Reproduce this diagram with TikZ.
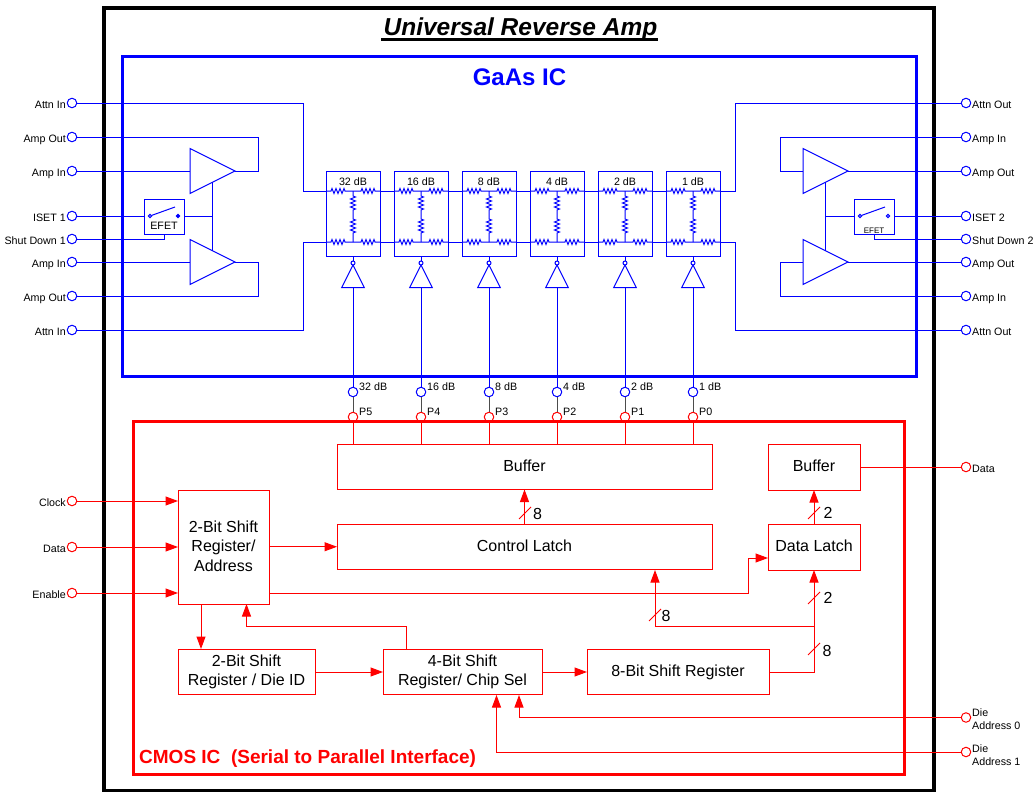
\documentclass[tikz,border=0pt]{standalone}
\usepackage{fontspec}
\setmainfont{Liberation Sans}
\usetikzlibrary{arrows.meta,shapes.geometric,decorations.pathmorphing,calc}
\definecolor{bblue}{RGB}{0,0,255}
\definecolor{rred}{RGB}{255,0,0}
\tikzset{
  wire/.style={draw=bblue,line width=1pt},
  rwire/.style={draw=rred,line width=1pt},
  rarrow/.style={rwire,-{Triangle[length=12.5pt,width=9pt]}},
  gwire/.style={draw=black!70,line width=1pt},
  bpin/.style={circle,draw=bblue,line width=1pt,minimum size=9.5pt,inner sep=0pt,outer sep=0pt},
  rpin/.style={circle,draw=rred,line width=1pt,minimum size=9.5pt,inner sep=0pt,outer sep=0pt},
  small/.style={font=\fontsize{10.7}{12.5}\selectfont,inner sep=0pt,text height=8pt,text depth=2pt},
  lablL/.style={small,anchor=east},
  lablR/.style={small,anchor=west},
  amp/.style={isosceles triangle,isosceles triangle stretches=true,draw=bblue,line width=1pt,
     minimum width=45pt,minimum height=45pt,inner sep=0pt,outer sep=0pt,anchor=apex},
  inv/.style={amp,minimum width=22.5pt,minimum height=22.5pt,shape border rotate=90},
  bubble/.style={circle,draw=bblue,line width=1pt,minimum size=4pt,inner sep=0pt,outer sep=0pt},
  contact/.style={circle,draw=bblue,line width=1pt,minimum size=3.2pt,inner sep=0pt,outer sep=0pt},
  efetbox/.style={rectangle,draw=bblue,line width=1pt,minimum width=40pt,minimum height=35pt,inner sep=0pt,outer sep=0pt},
  attbox/.style={rectangle,draw=bblue,line width=1pt,minimum width=54pt,minimum height=85pt,inner sep=0pt,outer sep=0pt},
  rbox/.style={rectangle,draw=rred,line width=1pt,inner sep=0pt,outer sep=0pt,align=center,
     font=\fontsize{16}{19.5}\selectfont},
  rboxone/.style={rbox,text depth=2pt},
  rtext/.style={inner sep=0pt,align=center,font=\fontsize{16}{19.5}\selectfont},
  num/.style={font=\fontsize{16}{18}\selectfont,inner sep=0pt},
  res/.style={decoration={zigzag,segment length=4pt,amplitude=2.5pt}},
}
\begin{document}
\begin{tikzpicture}[x=1pt,y=-1pt]
\useasboundingbox (0,0) rectangle (1034,792);
% frames
\draw[black,line width=3.5pt] (104,8) rectangle (934,790.5);
\draw[bblue,line width=3pt] (122,57) rectangle (916,376);
\draw[rred,line width=3pt] (133,421) rectangle (904.5,774.5);
\node[font=\fontsize{24.5}{26}\selectfont\bfseries\itshape,inner sep=0pt,anchor=base] (title) at (520.5,36) {Universal Reverse Amp};
\draw[black,line width=2.2pt] ([yshift=-3.5pt,xshift=-2pt]title.base west) -- ([yshift=-3.5pt]title.base east);
\node[font=\fontsize{24}{26}\selectfont\bfseries,text=bblue,inner sep=0pt,anchor=base] (gaas) at (519.5,85) {GaAs IC};
\node[font=\fontsize{19}{22}\selectfont\bfseries,text=rred,inner sep=0pt,anchor=west] (cmos) at (139,758.5) {CMOS IC\ \ (Serial to Parallel Interface)};

% pins left
\foreach \nm/\y/\t in {lA/103/Attn In,lB/137/Amp Out,lC/171/Amp In,lD/216/ISET 1,lE/239/Shut Down 1,lF/262/Amp In,lG/296/Amp Out,lH/330/Attn In}{
  \node[bpin] (\nm) at (72,\y) {};
  \node[lablL] (\nm t) at (66,\y+2) {\t};
}
% pins right
\foreach \nm/\y/\t in {rA/103/Attn Out,rB/137/Amp In,rC/171/Amp Out,rD/216/ISET 2,rE/239/Shut Down 2,rF/262/Amp Out,rG/296/Amp In,rH/330/Attn Out}{
  \node[bpin] (\nm) at (966,\y) {};
  \node[lablR] (\nm t) at (972,\y+2) {\t};
}
% left amplifiers
\node[amp] (ampL1) at (235,171) {};
\node[amp] (ampL2) at (235,262) {};
\coordinate (fbL1) at (258,137);
\coordinate (fbL2) at (258,296);
\coordinate (fbL1m) at (258,171);
\coordinate (fbL2m) at (258,262);
\draw[wire] (lC) -- (ampL1.lower side);
\draw[wire] (lF) -- (ampL2.lower side);
\draw[wire] (lB) -- (fbL1) -- (fbL1m) -- (ampL1.apex);
\draw[wire] (lG) -- (fbL2) -- (fbL2m) -- (ampL2.apex);
\draw[wire] (ampL1.right side) -- (ampL2.left side);
\node[efetbox] (efL) at (164,216.5) {};
\node[contact] (efLa) at (150,216) {};
\node[contact,fill=bblue] (efLb) at (178,216) {};
\coordinate (efLc) at (175,207);
\draw[wire] (efLa) -- (efLc);
\node[small,anchor=center] (efLt) at (164,226) {EFET};
\draw[wire] (lD) -- (efL.west |- lD);
\draw[wire] (efL.east |- lD) -- (ampL1.right side |- lD);
\draw[wire] (lE) -| (efL.south);
% right amplifiers
\node[amp] (ampR1) at (848,171) {};
\node[amp] (ampR2) at (848,262) {};
\coordinate (fbR1) at (780,137);
\coordinate (fbR2) at (780,296);
\coordinate (fbR1m) at (780,171);
\coordinate (fbR2m) at (780,262);
\draw[wire] (rC) -- (ampR1.apex);
\draw[wire] (rF) -- (ampR2.apex);
\draw[wire] (rB) -- (fbR1) -- (fbR1m) -- (ampR1.lower side);
\draw[wire] (rG) -- (fbR2) -- (fbR2m) -- (ampR2.lower side);
\draw[wire] (ampR1.right side) -- (ampR2.left side);
\node[efetbox] (efR) at (874,216.5) {};
\node[contact] (efRa) at (860,216) {};
\node[contact] (efRb) at (888,216) {};
\coordinate (efRc) at (885,207);
\draw[wire] (efRa) -- (efRc);
\node[small,anchor=center,font=\fontsize{8}{9}\selectfont] (efRt) at (874,230) {EFET};
\draw[wire] (rD) -- (efR.east |- rD);
\draw[wire] (efR.west |- rD) -- (ampR1.right side |- rD);
\draw[wire] (rE) -| (efR.south);
% attenuators
\foreach \i/\x/\lab/\pn in {5/353/32/P5,4/421/16/P4,3/489/8/P3,2/557/4/P2,1/625/2/P1,0/693/1/P0}{
  \node[attbox] (att\i) at (\x,213.5) {};
  \node[small,anchor=center] (attl\i) at (\x,182) {\lab\ dB};
  \coordinate (tm\i) at (\x,191);
  \coordinate (bm\i) at (\x,242);
  \draw[wire] (att\i.west |- tm\i) -- (\x-22,191) decorate[res]{-- (\x-8,191)} -- (\x+8,191) decorate[res]{-- (\x+23,191)} -- (att\i.east |- tm\i);
  \draw[wire] (att\i.west |- bm\i) -- (\x-22,242) decorate[res]{-- (\x-8,242)} -- (\x+8,242) decorate[res]{-- (\x+23,242)} -- (att\i.east |- bm\i);
  \draw[wire] (tm\i) -- (\x,196) decorate[res]{-- (\x,211)} -- (\x,219) decorate[res]{-- (\x,234)} -- (bm\i);
  \node[bubble] (bub\i) at (\x,263) {};
  \node[inv] (inv\i) at (\x,265) {};
  \node[bpin] (dp\i) at (\x,392) {};
  \node[rpin] (pp\i) at (\x,417) {};
  \node[small,anchor=west] (dpt\i) at (\x+6,387.5) {\lab\ dB};
  \node[small,anchor=west] (ppt\i) at (\x+6,412.5) {\pn};
  \draw[wire] (att\i.south) -- (bub\i);
  \draw[wire] (inv\i.lower side) -- (dp\i);
  \draw[gwire] (dp\i) -- (pp\i);
}
\foreach \a/\b in {5/4,4/3,3/2,2/1,1/0}{
  \draw[wire] (att\a.east |- tm\a) -- (att\b.west |- tm\b);
  \draw[wire] (att\a.east |- bm\a) -- (att\b.west |- bm\b);
}
\coordinate (bTL) at (303,191);
\coordinate (bBL) at (303,242);
\coordinate (bTR) at (735,191);
\coordinate (bBR) at (735,242);
\draw[wire] (lA) -| (bTL) -- (att5.west |- tm5);
\draw[wire] (lH) -| (bBL) -- (att5.west |- bm5);
\draw[wire] (rA) -| (bTR) -- (att0.east |- tm0);
\draw[wire] (rH) -| (bBR) -- (att0.east |- bm0);

% CMOS boxes
\node[rboxone,minimum width=375pt,minimum height=45.5pt] (buf) at (524.5,466.75) {Buffer};
\node[rboxone,minimum width=375pt,minimum height=45.5pt] (ctl) at (524.5,546.75) {Control Latch};
\node[rboxone,minimum width=92pt,minimum height=46pt] (sbuf) at (814,467) {Buffer};
\node[rboxone,minimum width=92pt,minimum height=46pt] (dl) at (814,547) {Data Latch};
\node[rbox,minimum width=91pt,minimum height=114pt] (addr) at (223.5,547) {};
\node[rtext] (addrt) at (223.5,546) {2-Bit Shift\\Register/\\Address};
\node[rbox,minimum width=137pt,minimum height=45.5pt] (die) at (246.5,672) {2-Bit Shift\\Register / Die ID};
\node[rbox,minimum width=159pt,minimum height=45.5pt] (chip) at (462.5,672) {4-Bit Shift\\Register/ Chip Sel};
\node[rbox,minimum width=182pt,minimum height=45.5pt] (sr) at (678,672) {8-Bit Shift Register};
% red pins
\foreach \nm/\y/\t in {cClk/501/Clock,cDat/547/Data,cEn/593/Enable}{
  \node[rpin] (\nm) at (72,\y) {};
  \node[lablL] (\nm t) at (66,\y+2) {\t};
  \draw[rarrow] (\nm) -- (addr.west |- \nm);
}
\node[rpin] (oDat) at (966,467) {};
\node[lablR] (oDatt) at (972,469) {Data};
\node[rpin] (da0) at (966,717.5) {};
\node[lablR,align=left,text height=,text depth=,font=\fontsize{10.7}{13}\selectfont] (da0t) at (972,719) {Die\\Address 0};
\node[rpin] (da1) at (966,752) {};
\node[lablR,align=left,text height=,text depth=,font=\fontsize{10.7}{13}\selectfont] (da1t) at (972,755) {Die\\Address 1};
% P pins to buffer
\foreach \i in {5,4,3,2,1,0}{ \draw[rwire] (pp\i) -- (buf.north -| pp\i); }
% red connectors
\draw[rarrow] (ctl.north) -- (buf.south);
\draw[rarrow] (dl.north) -- (sbuf.south);
\draw[rwire] (sbuf.east) -- (oDat);
\draw[rarrow] (addr.east |- ctl) -- (ctl.west);
\coordinate (b1) at (748,593);
\coordinate (b2) at (748,558);
\coordinate (b3) at (768,558);
\draw[rarrow] (addr.east |- cEn) -- (b1) -- (b2) -- (b3);
\coordinate (b4) at (814,672);
\coordinate (b5) at (814,626);
\coordinate (b6) at (655,626);
\coordinate (b7) at (655,570);
\draw[rarrow] (sr.east) -- (b4) -- (dl.south);
\draw[rarrow] (b5) -- (b6) -- (b7);
\coordinate (c1) at (201,604);
\coordinate (c2) at (201,649);
\draw[rarrow] (c1) -- (c2);
\coordinate (c3) at (406,649);
\coordinate (c4) at (406,626.5);
\coordinate (c5) at (246.5,626.5);
\coordinate (c6) at (246.5,604);
\draw[rarrow] (c3) -- (c4) -- (c5) -- (c6);
\draw[rarrow] (die.east) -- (chip.west);
\draw[rarrow] (chip.east) -- (sr.west);
\coordinate (d0) at (519,717.5);
\coordinate (d0e) at (519,695);
\draw[rarrow] (da0) -- (d0) -- (d0e);
\coordinate (d1) at (496.5,752);
\coordinate (d1e) at (496.5,695);
\draw[rarrow] (da1) -- (d1) -- (d1e);
% bus ticks
\draw[rwire] (519,519) -- (531,507);
\node[num] (n8a) at (537.5,513.5) {8};
\draw[rwire] (808,519) -- (820,507);
\node[num] (n2a) at (828,512.5) {2};
\draw[rwire] (808,604) -- (820,592);
\node[num] (n2b) at (828,597.5) {2};
\draw[rwire] (808,655) -- (820,643);
\node[num] (n8b) at (827,651) {8};
\draw[rwire] (649,621) -- (661,609);
\node[num] (n8c) at (666,615.5) {8};
\end{tikzpicture}
\end{document}
